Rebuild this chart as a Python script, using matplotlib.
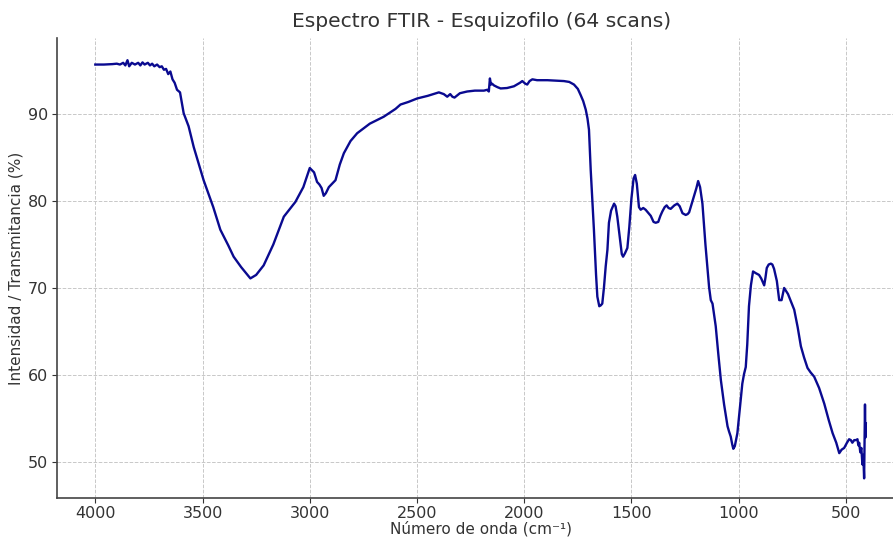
import numpy as np
import matplotlib
matplotlib.use("Agg")
import matplotlib.pyplot as plt

# FTIR spectrum (wavenumber, transmittance)
wavenumber = np.array([
    4000, 3960, 3920, 3900, 3885, 3870, 3860, 3850, 3842, 3830, 3815, 3800,
    3790, 3780, 3770, 3755, 3745, 3735, 3725, 3712, 3700, 3690, 3680, 3670,
    3660, 3650, 3640, 3630, 3619, 3605, 3588, 3565, 3541, 3495, 3450, 3417,
    3380, 3355, 3320, 3277, 3250, 3215, 3170, 3121, 3067, 3030, 3000, 2980,
    2966, 2955, 2945, 2935, 2925, 2911, 2880, 2860, 2841, 2810, 2779, 2720,
    2655, 2600, 2577, 2540, 2499, 2450, 2398, 2375, 2359, 2345, 2335, 2325,
    2300, 2266, 2230, 2188, 2172, 2165, 2160, 2155, 2150, 2141, 2125, 2110,
    2080, 2048, 2020, 2009, 1995, 1986, 1975, 1962, 1940, 1892, 1850, 1815,
    1790, 1768, 1750, 1737, 1725, 1713, 1705, 1698, 1690, 1675, 1665, 1659,
    1650, 1643, 1636, 1628, 1620, 1612, 1605, 1595, 1581, 1574, 1566, 1555,
    1545, 1539, 1530, 1519, 1510, 1500, 1490, 1483, 1475, 1465, 1457, 1445,
    1434, 1420, 1410, 1397, 1387, 1375, 1365, 1356, 1345, 1336, 1327, 1317,
    1300, 1286, 1275, 1262, 1247, 1238, 1231, 1220, 1208, 1197, 1189, 1180,
    1169, 1155, 1138, 1130, 1122, 1107, 1095, 1083, 1068, 1052, 1045, 1037,
    1030, 1025, 1018, 1006, 995, 983, 975, 967, 960, 952, 943, 933,
    920, 905, 895, 881, 875, 869, 860, 850, 843, 835, 822, 811,
    800, 788, 770, 741, 725, 710, 695, 679, 665, 648, 625, 601,
    580, 562, 545, 531, 520, 508, 495, 485, 477, 470, 461, 453,
    446, 442, 438, 433, 428, 423, 419, 415, 413, 411, 409, 407,
])
transmittance = np.array([
    95.7, 95.7, 95.75, 95.8, 95.7, 95.9, 95.6, 96.2, 95.5, 95.9, 95.7, 95.9,
    95.6, 95.95, 95.7, 95.9, 95.6, 95.8, 95.5, 95.7, 95.4, 95.5, 95.1, 95.2,
    94.6, 94.9, 94.0, 93.6, 92.8, 92.5, 90.1, 88.6, 86.2, 82.4, 79.3, 76.7,
    74.9, 73.6, 72.4, 71.1, 71.5, 72.6, 75.0, 78.2, 79.9, 81.6, 83.8, 83.3,
    82.2, 81.9, 81.5, 80.6, 80.9, 81.6, 82.4, 84.2, 85.5, 86.9, 87.8, 88.9,
    89.7, 90.6, 91.1, 91.4, 91.8, 92.1, 92.5, 92.3, 92.0, 92.3, 92.0, 91.9,
    92.4, 92.6, 92.7, 92.7, 92.8, 92.6, 94.1, 93.4, 93.5, 93.3, 93.1, 92.95,
    93.0, 93.2, 93.6, 93.8, 93.5, 93.4, 93.8, 94.0, 93.9, 93.9, 93.85, 93.8,
    93.7, 93.4, 92.9, 92.2, 91.5, 90.5, 89.5, 88.2, 83.6, 76.7, 71.5, 69.0,
    67.9, 68.0, 68.2, 70.1, 72.5, 74.4, 77.5, 78.9, 79.7, 79.4, 78.2, 76.0,
    73.9, 73.6, 74.0, 74.6, 77.0, 80.3, 82.6, 83.0, 82.0, 79.3, 79.0, 79.2,
    79.0, 78.6, 78.3, 77.6, 77.5, 77.6, 78.3, 78.8, 79.3, 79.5, 79.2, 79.1,
    79.5, 79.7, 79.4, 78.6, 78.4, 78.5, 78.7, 79.6, 80.6, 81.5, 82.3, 81.6,
    79.7, 75.0, 70.1, 68.6, 68.2, 65.6, 62.4, 59.4, 56.6, 54.1, 53.5, 52.9,
    52.0, 51.5, 51.8, 53.3, 56.0, 59.0, 60.1, 60.9, 63.5, 67.9, 70.3, 71.9,
    71.7, 71.5, 71.1, 70.3, 71.2, 72.3, 72.7, 72.8, 72.7, 72.2, 70.8, 68.6,
    68.6, 70.0, 69.3, 67.5, 65.5, 63.3, 62.0, 60.8, 60.3, 59.8, 58.5, 56.7,
    54.8, 53.3, 52.2, 51.0, 51.4, 51.6, 52.2, 52.6, 52.5, 52.2, 52.5, 52.5,
    52.6, 51.9, 52.2, 51.1, 51.6, 49.7, 50.8, 48.1, 52.0, 56.6, 52.8, 54.4,
])

fig = plt.figure(figsize=(8.93, 5.38), dpi=100)
# axes runs a little past the right edge of the figure, like the reference crop
ax = fig.add_axes([0.0635, 0.0745, 0.951, 0.854])

ax.plot(wavenumber, transmittance, color="#0a0a90", linewidth=1.7)

ax.set_xlim(4180, 220)
ax.set_ylim(45.85, 98.7)
ax.set_xticks([4000, 3500, 3000, 2500, 2000, 1500, 1000, 500])
ax.set_yticks([50, 60, 70, 80, 90])

ax.grid(True, linestyle="--", linewidth=0.7, color="#c8c8c8")
ax.set_axisbelow(True)
for side in ["top", "right"]:
    ax.spines[side].set_visible(False)
for side in ["left", "bottom"]:
    ax.spines[side].set_color("#444444")
    ax.spines[side].set_linewidth(1.2)
ax.tick_params(labelsize=11.5, colors="#333333", length=3.5, pad=2.5)

ax.set_title("Espectro FTIR - Esquizofilo (64 scans)", fontsize=14.6,
             color="#333333", pad=8)
ax.set_xlabel("Número de onda (cm⁻¹)", fontsize=11, color="#333333",
              labelpad=0)
ax.set_ylabel("Intensidad / Transmitancia (%)", fontsize=11,
              color="#333333", labelpad=3)

fig.savefig("out.png", dpi=100)
